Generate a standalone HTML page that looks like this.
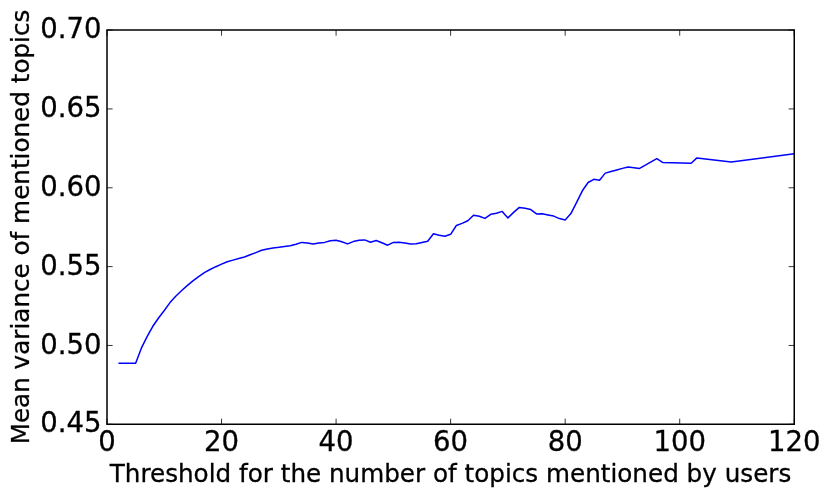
<!DOCTYPE html>
<html lang="en">
<head>
<meta charset="utf-8">
<title>Mean variance of mentioned topics</title>
<style>
html,body{margin:0;padding:0;background:#fff;}
body{width:830px;height:497px;overflow:hidden;}
svg{display:block;}
text{font-family:"DejaVu Sans","Liberation Sans",sans-serif;fill:#000;stroke:#000;stroke-width:0.3px;}
.tl text{font-size:27.5px;}
.al{font-size:24.65px;}
</style>
</head>
<body>
<svg width="830" height="497" viewBox="0 0 830 497">
<rect x="0" y="0" width="830" height="497" fill="#fff"/>
<polyline points="118.45,363.20 135.64,363.20 141.36,348.20 147.09,336.60 152.82,326.30 158.54,318.00 164.27,310.50 170.00,302.60 175.72,296.20 181.45,290.80 187.18,285.60 192.91,280.90 198.63,276.60 204.36,272.60 210.09,269.50 215.81,266.70 221.54,264.10 227.27,261.70 233.00,260.10 238.72,258.50 244.45,257.00 250.18,254.80 255.90,252.60 261.63,250.30 267.36,248.90 273.09,247.90 278.81,247.30 284.54,246.40 290.27,245.70 295.99,244.20 301.72,242.40 307.45,243.10 313.18,244.10 318.90,242.90 324.63,242.40 330.36,240.80 336.08,240.30 341.81,241.80 347.54,243.90 353.26,241.60 358.99,240.20 364.72,239.90 370.45,242.20 376.17,240.50 381.90,242.80 387.63,245.20 393.35,242.40 399.08,242.30 404.81,243.00 410.54,244.00 416.26,243.70 421.99,242.40 427.72,241.20 433.44,233.70 439.17,235.30 444.90,236.20 450.62,234.30 456.35,225.50 462.08,223.40 467.81,220.80 473.53,215.30 479.26,216.20 484.99,218.40 490.71,214.30 496.44,213.30 502.17,211.40 507.90,217.90 513.62,212.40 519.35,207.40 525.08,208.30 530.80,209.60 536.53,213.90 542.26,213.80 547.99,214.90 553.71,216.10 559.44,218.60 565.17,219.90 570.89,213.60 576.62,202.40 582.35,190.80 588.08,182.50 593.80,179.30 599.53,180.20 605.26,173.10 610.98,171.50 616.71,170.00 622.44,168.40 628.16,166.90 633.89,167.70 639.62,168.40 656.80,158.70 662.53,162.40 691.16,163.20 696.89,157.90 731.25,162.10 794.25,153.70" fill="none" stroke="#0000ff" stroke-width="1.5" stroke-linejoin="round" stroke-linecap="butt"/>
<path d="M107.00 424.3 v-5.6 M107.00 30.1 v5.6 M221.54 424.3 v-5.6 M221.54 30.1 v5.6 M336.08 424.3 v-5.6 M336.08 30.1 v5.6 M450.62 424.3 v-5.6 M450.62 30.1 v5.6 M565.17 424.3 v-5.6 M565.17 30.1 v5.6 M679.71 424.3 v-5.6 M679.71 30.1 v5.6 M794.25 424.3 v-5.6 M794.25 30.1 v5.6 M107.0 424.30 h5.6 M794.25 424.30 h-5.6 M107.0 345.46 h5.6 M794.25 345.46 h-5.6 M107.0 266.62 h5.6 M794.25 266.62 h-5.6 M107.0 187.78 h5.6 M794.25 187.78 h-5.6 M107.0 108.94 h5.6 M794.25 108.94 h-5.6 M107.0 30.10 h5.6 M794.25 30.10 h-5.6" stroke="#000" stroke-width="0.8" fill="none"/>
<path d="M107.0 29.35 V425.05 M794.25 29.35 V425.05 M106.25 30.1 H795.0 M106.25 424.3 H795.0" fill="none" stroke="#000" stroke-width="1.5"/>
<g class="tl">
<text x="107.00" y="451.1" text-anchor="middle">0</text>
<text x="221.54" y="451.1" text-anchor="middle">20</text>
<text x="336.08" y="451.1" text-anchor="middle">40</text>
<text x="450.62" y="451.1" text-anchor="middle">60</text>
<text x="565.17" y="451.1" text-anchor="middle">80</text>
<text x="679.71" y="451.1" text-anchor="middle">100</text>
<text x="794.25" y="451.1" text-anchor="middle">120</text>
<text x="101.6" y="432.3" text-anchor="end">0.45</text>
<text x="101.6" y="353.75" text-anchor="end">0.50</text>
<text x="101.6" y="274.85" text-anchor="end">0.55</text>
<text x="101.6" y="195.85" text-anchor="end">0.60</text>
<text x="101.6" y="117.15" text-anchor="end">0.65</text>
<text x="101.6" y="37.7" text-anchor="end">0.70</text>
</g>
<text class="al" x="450.5" y="481.5" text-anchor="middle">Threshold for the number of topics mentioned by users</text>
<text class="al" transform="translate(29.2 227) rotate(-90)" text-anchor="middle">Mean variance of mentioned topics</text>
</svg>
</body>
</html>
